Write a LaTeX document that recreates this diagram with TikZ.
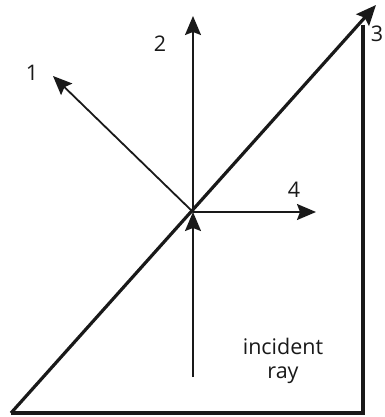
\documentclass[tikz,border=0pt]{standalone}
\usepackage{fontspec}
\setmainfont{Open Sans}
\usetikzlibrary{arrows.meta}
\begin{document}
\begin{tikzpicture}[x=1pt,y=-1pt,
  ray/.style={line width=1.8pt,draw=black!90,-{Stealth[length=19pt,width=16pt,inset=3pt]}},
  edge/.style={line width=3.2pt,draw=black!90},
  lbl/.style={font=\fontsize{21.5}{24}\selectfont,text=black!90,inner sep=0pt}]
\useasboundingbox (0,0) rectangle (384,417);
% points
\coordinate (O) at (193,212);
\coordinate (A) at (11,413);
\coordinate (B) at (363,413);
\coordinate (C) at (363,25);
\coordinate (T3) at (376,5);
\coordinate (T1) at (53,76);
\coordinate (T2) at (193,16);
\coordinate (T4) at (316,212);
\coordinate (S) at (193,377);
% prism
\draw[edge,line join=miter] (C) -- (B) -- (A);
\draw[edge,-{Stealth[length=20pt,width=17pt,inset=3pt]}] (A) -- (T3);
% rays
\draw[ray] (O) -- (T1);
\draw[ray] (O) -- (T2);
\draw[ray] (O) -- (T4);
\draw[ray] (S) -- (O);
% labels
\node[lbl] (l1) at (32,73) {1};
\node[lbl] (l2) at (160,44) {2};
\node[lbl] (l3) at (377,34) {3};
\node[lbl] (l4) at (294,190) {4};
\node[lbl,align=center] (inc) at (283,361) {incident\\ray};
\end{tikzpicture}
\end{document}
